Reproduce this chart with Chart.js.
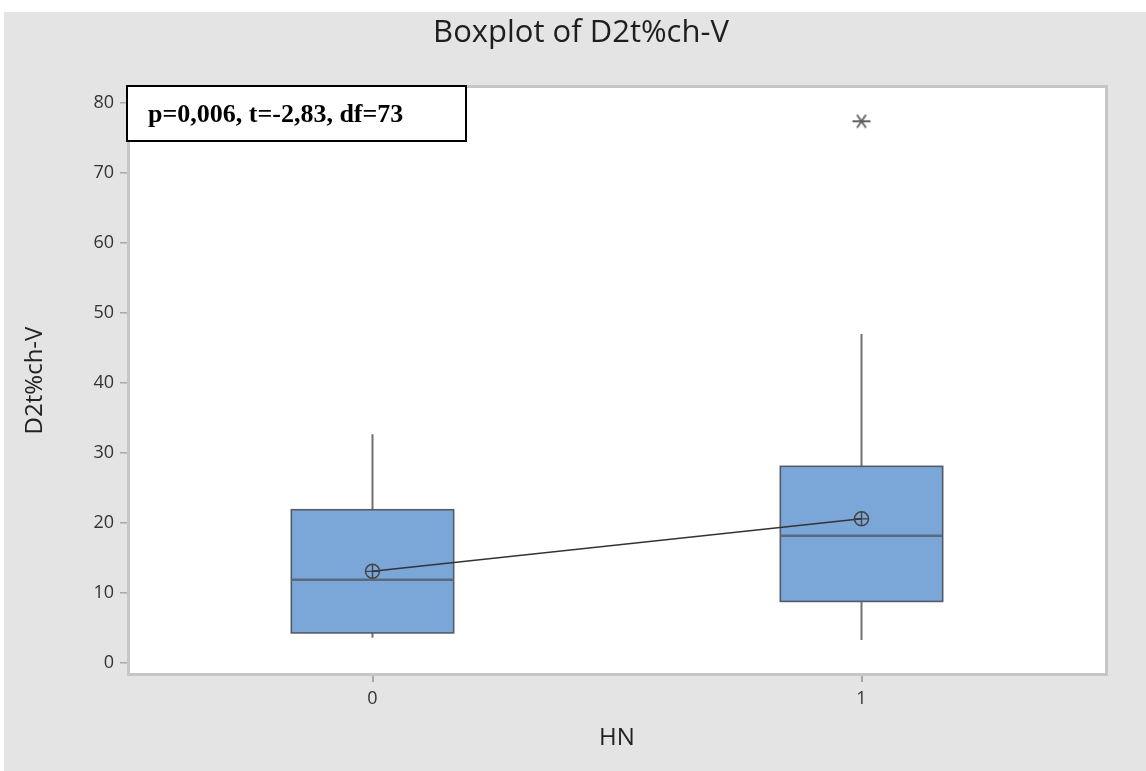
<!DOCTYPE html>
<html><head><meta charset="utf-8">
<script src="https://cdn.jsdelivr.net/npm/chart.js@4.4.1/dist/chart.umd.min.js"></script>
<style>
html,body{margin:0;padding:0;background:#fff;width:1146px;height:771px;overflow:hidden;}
#wrap{position:absolute;left:4px;top:12px;width:1142px;height:759px;background:#e4e4e4;}
</style></head><body>
<div id="wrap"><canvas id="c"></canvas></div>
<script>
// ---- data ----
const categories = ['0', '1'];
const categoryPositions = [0, 1];
const q1 = [4.3, 8.8];
const median = [11.9, 18.2];
const q3 = [21.9, 28.1];
const whiskerLow = [3.6, 3.3];
const whiskerHigh = [32.7, 47.0];
const means = [13.1, 20.6];
const outlierGroup = [1];
const outlierValues = [77.4];
const yTicks = [0, 10, 20, 30, 40, 50, 60, 70, 80];
const xTicks = [0, 1];
const chartTitle = 'Boxplot of D2t%ch-V';
const yTitle = 'D2t%ch-V';
const xTitle = 'HN';
const annotationText = 'p=0,006, t=-2,83, df=73';

// asterisk marker for outliers
function makeAsterisk() {
  const c = document.createElement('canvas');
  c.width = 20; c.height = 16;
  const g = c.getContext('2d');
  g.strokeStyle = '#606060'; g.lineWidth = 1.8;
  g.beginPath();
  g.moveTo(1, 8); g.lineTo(19, 8);
  g.moveTo(5.5, 1.5); g.lineTo(14.5, 14.5);
  g.moveTo(14.5, 1.5); g.lineTo(5.5, 14.5);
  g.stroke();
  return c;
}

const boxPlugin = {
  id: 'boxes',
  beforeDraw(chart) {
    const { ctx, chartArea: a } = chart;
    ctx.save();
    ctx.fillStyle = '#ffffff';
    ctx.fillRect(a.left, a.top, a.right - a.left, a.bottom - a.top);
    ctx.restore();
  },
  beforeDatasetsDraw(chart) {
    const { ctx, chartArea: a, scales: { x, y } } = chart;
    ctx.save();
    ctx.strokeStyle = '#c6c6c6';
    ctx.lineWidth = 3;
    ctx.strokeRect(a.left + 0.5, a.top - 0.5, a.right - a.left, a.bottom - a.top + 1);
    const hw = 0.166;
    categoryPositions.forEach((p, i) => {
      const xc = x.getPixelForValue(p);
      const xl = x.getPixelForValue(p - hw);
      const xr = x.getPixelForValue(p + hw);
      const yq1 = y.getPixelForValue(q1[i]);
      const yq3 = y.getPixelForValue(q3[i]);
      const ym = y.getPixelForValue(median[i]);
      // whiskers
      ctx.strokeStyle = '#707070';
      ctx.lineWidth = 2;
      ctx.beginPath();
      ctx.moveTo(xc, yq3); ctx.lineTo(xc, y.getPixelForValue(whiskerHigh[i]));
      ctx.moveTo(xc, yq1); ctx.lineTo(xc, y.getPixelForValue(whiskerLow[i]));
      ctx.stroke();
      // box
      ctx.fillStyle = '#7ba6d8';
      ctx.fillRect(xl, yq3, xr - xl, yq1 - yq3);
      ctx.strokeStyle = '#545b64';
      ctx.lineWidth = 1.6;
      ctx.strokeRect(xl, yq3, xr - xl, yq1 - yq3);
      // median
      ctx.strokeStyle = '#5a6a7e';
      ctx.lineWidth = 2.5;
      ctx.beginPath();
      ctx.moveTo(xl, ym); ctx.lineTo(xr, ym);
      ctx.stroke();
    });
    ctx.restore();
  },
  afterDatasetsDraw(chart) {
    const { ctx, chartArea: a } = chart;
    ctx.save();
    const bx = a.left - 1, by = a.top - 1, bw = 339, bh = 55;
    ctx.fillStyle = '#fff';
    ctx.fillRect(bx, by, bw, bh);
    ctx.strokeStyle = '#000';
    ctx.lineWidth = 2;
    ctx.strokeRect(bx, by, bw, bh);
    ctx.fillStyle = '#000';
    ctx.font = 'bold 26px "Liberation Serif", "Times New Roman", serif';
    ctx.textBaseline = 'alphabetic';
    ctx.fillText(annotationText, bx + 21, by + 36);
    ctx.restore();
  }
};

const meanPoints = categoryPositions.map((p, i) => ({ x: p, y: means[i] }));
const outlierPoints = outlierGroup.map((g, i) => ({ x: categoryPositions[g], y: outlierValues[i] }));

new Chart(document.getElementById('c'), {
  type: 'scatter',
  data: {
    datasets: [
      {
        type: 'line', data: meanPoints, borderColor: '#333', borderWidth: 1.5,
        pointStyle: 'circle', pointRadius: 7, pointBorderColor: '#444', pointBorderWidth: 1.5,
        pointBackgroundColor: 'rgba(0,0,0,0)', fill: false, tension: 0
      },
      {
        data: meanPoints, showLine: false, pointStyle: 'cross', pointRadius: 7,
        pointBorderColor: '#444', pointBorderWidth: 1.4
      },
      {
        data: outlierPoints, showLine: false, pointStyle: makeAsterisk(), pointRadius: 9
      }
    ]
  },
  options: {
    responsive: true, maintainAspectRatio: false, animation: false, devicePixelRatio: 1,
    layout: { padding: { left: 12, right: 0, top: 0, bottom: 0 } },
    plugins: {
      legend: { display: false }, tooltip: { enabled: false },
      title: {
        display: true, text: chartTitle, color: '#1e1e1e',
        font: { family: '"Open Sans", "Noto Sans", sans-serif', size: 31, weight: 'normal', lineHeight: 1.2 },
        padding: { top: 3, bottom: 34.8 }
      }
    },
    scales: {
      x: {
        type: 'linear', position: 'bottom', min: -0.5, max: 1.5,
        afterBuildTicks(s) { s.ticks = xTicks.map(v => ({ value: v })); },
        afterFit(s) { s.height = 97; },
        grid: { drawOnChartArea: false, drawTicks: true, tickLength: 8, color: '#a8a8a8', lineWidth: 2 },
        border: { display: false },
        ticks: {
          color: '#333', padding: 6, font: { family: '"Open Sans", sans-serif', size: 18 },
          callback: (v) => categories[categoryPositions.indexOf(v)]
        },
        title: {
          display: true, text: xTitle, color: '#222',
          font: { family: '"Open Sans", sans-serif', size: 24 }, padding: { top: 0, bottom: 18 }
        }
      },
      y: {
        position: 'left', min: -1.57, max: 82.3,
        afterBuildTicks(s) { s.ticks = yTicks.map(v => ({ value: v })); },
        afterFit(s) { s.width = 112; },
        grid: { drawOnChartArea: false, drawTicks: true, tickLength: 8, color: '#a8a8a8', lineWidth: 1.5 },
        border: { display: false },
        ticks: { color: '#333', padding: 6, font: { family: '"Open Sans", sans-serif', size: 18 } },
        title: {
          display: true, text: yTitle, color: '#222',
          font: { family: '"Open Sans", sans-serif', size: 24 }, padding: { top: 5, bottom: 0 }
        }
      },
      yRight: {
        position: 'right', display: true, min: 0, max: 1,
        afterFit(s) { s.width = 40; },
        grid: { display: false }, border: { display: false }, ticks: { display: false }
      }
    }
  },
  plugins: [boxPlugin]
});
</script>
</body></html>
